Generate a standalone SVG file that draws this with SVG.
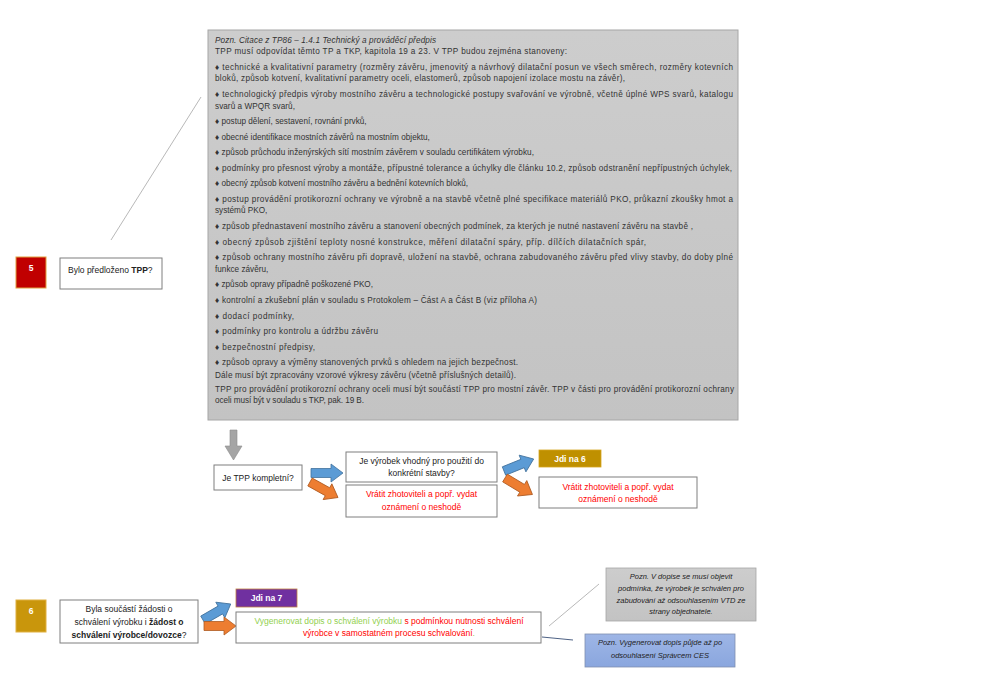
<svg xmlns="http://www.w3.org/2000/svg" width="1004" height="700" viewBox="0 0 1004 700">
<style>
text{font-family:"Liberation Sans",Arial,sans-serif;font-size:8.5px;fill:#222}
.n{font-size:8.2px;fill:#333}
.c{text-anchor:middle}
.b{font-weight:bold}
.w{fill:#fff;font-weight:bold}
.r{fill:#ff0000}
.g{fill:#92d050}
.i{font-style:italic}
.box{fill:#fff;stroke:#7f7f7f;stroke-width:1}
.blue{fill:#5b9bd5;stroke:#41719c;stroke-width:0.8}
.orange{fill:#ed7d31;stroke:#ae5a21;stroke-width:0.8}
.ln{stroke:#a6a6a6;stroke-width:0.8;fill:none}
</style>
<defs>
<path id="arr" d="M0,-4.5 L20,-4.5 L20,-9 L32,0 L20,9 L20,4.5 L0,4.5 Z"/>
<linearGradient id="gg" x1="0" y1="0" x2="0" y2="1"><stop offset="0" stop-color="#cdcdcd"/><stop offset="1" stop-color="#c3c3c3"/></linearGradient>
<linearGradient id="bg" x1="0" y1="0" x2="0" y2="1"><stop offset="0" stop-color="#9eb6e6"/><stop offset="1" stop-color="#8aa6de"/></linearGradient>
</defs>
<rect width="1004" height="700" fill="#fff"/>

<g id="connectors">
<line class="ln" x1="111" y1="240" x2="201" y2="97"/>
<line class="ln" x1="549" y1="626" x2="599" y2="584"/>
<line x1="542" y1="637" x2="573" y2="640" stroke="#1f3864" stroke-width="0.8"/>
<polygon points="230,430 237,430 237,446 242,446 233.5,460 225,446 230,446" fill="#a5a5a5" stroke="#8c8c8c" stroke-width="0.6"/>
<use href="#arr" class="blue" transform="translate(311,473)"/>
<use href="#arr" class="orange" transform="translate(310,482) rotate(29)"/>
<use href="#arr" class="blue" transform="translate(504,471) rotate(-22)"/>
<use href="#arr" class="orange" transform="translate(505,478) rotate(31)"/>
<use href="#arr" class="blue" transform="translate(203,620) rotate(-30)"/>
<use href="#arr" class="orange" transform="translate(204,626)"/>
</g>

<g id="note-tp86">
<rect x="208" y="30" width="530" height="390" fill="url(#gg)" stroke="#a6a6a6" stroke-width="1"/>
<text class="n i" x="215" y="43" textLength="221">Pozn. Citace z TP86 – 1.4.1 Technický a prováděcí předpis</text>
<text class="n" x="215" y="54" textLength="352">TPP musí odpovídat těmto TP a TKP, kapitola 19 a 23. V TPP budou zejména stanoveny:</text>
<text class="n" x="215" y="70" textLength="518">♦ technické a kvalitativní parametry (rozměry závěru, jmenovitý a návrhový dilatační posun ve všech směrech, rozměry kotevních</text>
<text class="n" x="215" y="81" textLength="410">bloků, způsob kotvení, kvalitativní parametry oceli, elastomerů, způsob napojení izolace mostu na závěr),</text>
<text class="n" x="215" y="97" textLength="518">♦ technologický předpis výroby mostního závěru a technologické postupy svařování ve výrobně, včetně úplné WPS svarů, katalogu</text>
<text class="n" x="215" y="109" textLength="80">svarů a WPQR svarů,</text>
<text class="n" x="215" y="124">♦ postup dělení, sestavení, rovnání prvků,</text>
<text class="n" x="215" y="140">♦ obecné identifikace mostních závěrů na mostním objektu,</text>
<text class="n" x="215" y="155" textLength="319">♦ způsob průchodu inženýrských sítí mostním závěrem v souladu certifikátem výrobku,</text>
<text class="n" x="215" y="171" textLength="517">♦ podmínky pro přesnost výroby a montáže, přípustné tolerance a úchylky dle článku 10.2, způsob odstranění nepřípustných úchylek,</text>
<text class="n" x="215" y="186">♦ obecný způsob kotvení mostního závěru a bednění kotevních bloků,</text>
<text class="n" x="215" y="202" textLength="518">♦ postup provádění protikorozní ochrany ve výrobně a na stavbě včetně plné specifikace materiálů PKO, průkazní zkoušky hmot a</text>
<text class="n" x="215" y="213">systémů PKO,</text>
<text class="n" x="215" y="229" textLength="478">♦ způsob přednastavení mostního závěru a stanovení obecných podmínek, za kterých je nutné nastavení závěru na stavbě ,</text>
<text class="n" x="215" y="245" textLength="431">♦ obecný způsob zjištění teploty nosné konstrukce, měření dilatační spáry, příp. dílčích dilatačních spár,</text>
<text class="n" x="215" y="260" textLength="518">♦ způsob ochrany mostního závěru při dopravě, uložení na stavbě, ochrana zabudovaného závěru před vlivy stavby, do doby plné</text>
<text class="n" x="215" y="272">funkce závěru,</text>
<text class="n" x="215" y="287">♦ způsob opravy případně poškozené PKO,</text>
<text class="n" x="215" y="303" textLength="322">♦ kontrolní a zkušební plán v souladu s Protokolem – Část A a Část B (viz příloha A)</text>
<text class="n" x="215" y="319" textLength="79">♦ dodací podmínky,</text>
<text class="n" x="215" y="334" textLength="163">♦ podmínky pro kontrolu a údržbu závěru</text>
<text class="n" x="215" y="350" textLength="100">♦ bezpečnostní předpisy,</text>
<text class="n" x="215" y="365" textLength="303">♦ způsob opravy a výměny stanovených prvků s ohledem na jejich bezpečnost.</text>
<text class="n" x="215" y="378" textLength="301">Dále musí být zpracovány vzorové výkresy závěru (včetně příslušných detailů).</text>
<text class="n" x="215" y="392" textLength="519">TPP pro provádění protikorozní ochrany oceli musí být součástí TPP pro mostní závěr. TPP v části pro provádění protikorozní ochrany</text>
<text class="n" x="215" y="403" textLength="149">oceli musí být v souladu s TKP, pak. 19 B.</text>
</g>

<g id="step5">
<rect x="16" y="257" width="30" height="31" fill="#c00000" stroke="#e0a040" stroke-width="1"/>
<text class="w c" x="31" y="271">5</text>
</g>
<g id="q5">
<rect class="box" x="60" y="258" width="102" height="31"/>
<text x="68" y="273">Bylo předloženo <tspan class="b">TPP</tspan>?</text>
</g>

<g id="q-kompletni">
<rect class="box" x="214" y="465" width="88" height="25"/>
<text class="c" x="258" y="481">Je TPP kompletní?</text>
</g>
<g id="q-vhodny">
<rect class="box" x="346" y="452" width="151" height="30"/>
<text class="c" x="421.5" y="464">Je výrobek vhodný pro použití do</text>
<text class="c" x="421.5" y="476">konkrétní stavby?</text>
</g>
<g id="vratit1">
<rect class="box" x="346" y="485" width="151" height="32"/>
<text class="c r" x="421.5" y="497">Vrátit zhotoviteli a popř. vydat</text>
<text class="c r" x="421.5" y="510">oznámení o neshodě</text>
</g>
<g id="jdi6">
<rect x="539" y="450" width="62" height="17" fill="#bf9000" stroke="#d6a520" stroke-width="0.8"/>
<text class="w c" x="570" y="461.5">Jdi na 6</text>
</g>
<g id="vratit2">
<rect class="box" x="539" y="477" width="158" height="31"/>
<text class="c r" x="618" y="490">Vrátit zhotoviteli a popř. vydat</text>
<text class="c r" x="618" y="502">oznámení o neshodě</text>
</g>

<g id="step6">
<rect x="16" y="600" width="30" height="32" fill="#c9960c" stroke="#e0b040" stroke-width="1"/>
<text class="w c" x="31" y="614">6</text>
</g>
<g id="q6">
<rect class="box" x="60" y="600" width="138" height="43"/>
<text class="c" x="129" y="612">Byla součástí žádosti o</text>
<text class="c" x="129" y="625">schválení výrobku i <tspan class="b">žádost o</tspan></text>
<text class="c" x="129" y="638"><tspan class="b">schválení výrobce/dovozce</tspan>?</text>
</g>
<g id="jdi7">
<rect x="236" y="589" width="61" height="18" fill="#7030a0" stroke="#c08040" stroke-width="0.8"/>
<text class="w c" x="266.5" y="601">Jdi na 7</text>
</g>
<g id="dopis">
<rect class="box" x="236" y="612" width="305" height="31"/>
<text class="c" x="389" y="624"><tspan class="g">Vygenerovat dopis o schválení výrobku</tspan><tspan class="r"> s podmínkou nutnosti schválení</tspan></text>
<text class="c" x="389" y="636"><tspan class="r">výrobce v samostatném procesu schvalování</tspan><tspan class="g">.</tspan></text>
</g>
<g id="note-vtd">
<rect x="606" y="568" width="150" height="53" fill="url(#gg)" stroke="#a6a6a6" stroke-width="0.8"/>
<text class="c i" x="681" y="579" style="font-size:7.5px">Pozn. V dopise se musí objevit</text>
<text class="c i" x="681" y="591" style="font-size:7.5px">podmínka, že výrobek je schválen pro</text>
<text class="c i" x="681" y="603" style="font-size:7.5px">zabudování až odsouhlasením VTD ze</text>
<text class="c i" x="681" y="614" style="font-size:7.5px">strany objednatele.</text>
</g>
<g id="note-ces">
<rect x="585" y="634" width="150" height="33" fill="url(#bg)" stroke="#7f90b0" stroke-width="0.8"/>
<text class="c i" x="660" y="645" style="font-size:7.5px">Pozn. Vygenerovat dopis půjde až po</text>
<text class="c i" x="660" y="658" style="font-size:7.5px">odsouhlasení Správcem CES</text>
</g>
</svg>
